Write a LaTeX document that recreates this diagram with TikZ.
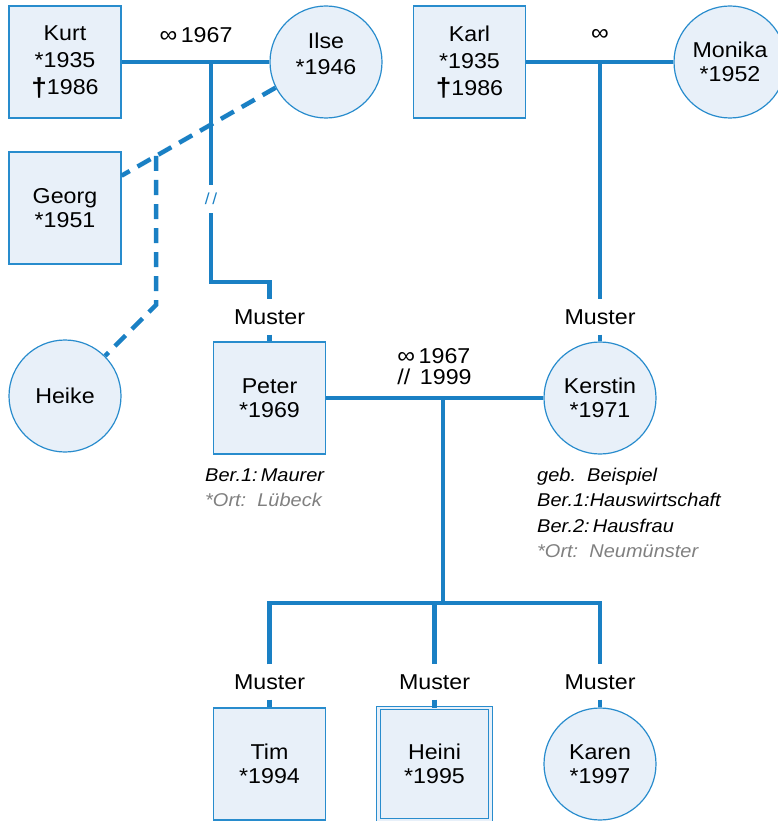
\documentclass[tikz,border=0pt]{standalone}
\usepackage{fontspec}
\setmainfont{Liberation Sans}[FakeStretch=1.08]
\definecolor{lineblue}{RGB}{26,128,196}
\definecolor{boxfill}{RGB}{232,240,249}
\definecolor{boxline}{RGB}{40,140,205}
\definecolor{greytext}{RGB}{128,128,128}
\newcommand{\deathmark}{{\fontsize{26}{26}\selectfont\bfseries\raisebox{-1.5pt}{†}}}
\newcommand{\marmark}{{\fontsize{23}{23}\selectfont ∞}}
\begin{document}
\begin{tikzpicture}[x=1pt,y=-1pt,
  person/.style={draw=boxline, fill=boxfill, line width=1.2pt, inner sep=0pt, align=center,
    font=\fontsize{21.5}{24.5}\selectfont},
  male/.style={person, rectangle, minimum width=112pt, minimum height=112pt},
  female/.style={person, circle, minimum size=112pt},
  tall/.style={font=\fontsize{21.5}{27}\selectfont},
  conn/.style={draw=lineblue, line width=4.5pt},
  dashconn/.style={conn, dash pattern=on 15pt off 9pt},
  lbl/.style={font=\fontsize{21.5}{21}\selectfont, inner sep=0pt},
  muster/.style={lbl, inner ysep=10pt},
  info/.style={font=\fontsize{18.5}{25.5}\selectfont\itshape, align=left, inner sep=0pt, anchor=north west},
]
\useasboundingbox (0,0) rectangle (777,821);

% persons
\node[male, tall] (Kurt) at (65,62) {Kurt\\*1935\\\deathmark1986};
\node[female, label={[lbl, align=center, font=\fontsize{21.5}{26}\selectfont, yshift=8.5pt]center:{Ilse\\*1946}}] (Ilse) at (326,62) {};
\node[male] (Georg) at (65,208) {Georg\\*1951};
\node[female] (Heike) at (65,396) {Heike};
\node[male, tall] (Karl) at (469.5,62) {Karl\\*1935\\\deathmark1986};
\node[female] (Monika) at (730,62) {Monika\\*1952};
\node[male] (Peter) at (269.5,398) {Peter\\*1969};
\node[female] (Kerstin) at (600,398) {Kerstin\\*1971};
\node[male] (Tim) at (269.5,764) {Tim\\*1994};
\node[male, line width=1pt, double=boxfill, double distance=2.5pt] (Heini) at (434.5,764) {Heini\\*1995};
\node[female] (Karen) at (600,764) {Karen\\*1997};

% surname labels
\node[muster] (muP) at (269.5,317) {Muster};
\node[muster] (muK) at (600,317) {Muster};
\node[muster] (muT) at (269.5,682) {Muster};
\node[muster] (muH) at (434.5,682) {Muster};
\node[muster] (muKa) at (600,682) {Muster};

% marriage labels
\node[lbl] (kiMar) at (196,35) {\marmark\,1967};
\node[lbl] (kmMar) at (600,35) {\marmark};
\node[lbl, align=left] (pkMar) at (434.5,366.5) {\marmark\,1967\\//\hspace{0.45em}1999};
\node[inner sep=0pt, minimum height=28pt, text=lineblue, font=\fontsize{16}{16}\selectfont] (kiDiv) at (211,199) {/\,/};

% info texts
\node[info] (peterInfo) at (205,468.5) {Ber.1:\,Maurer\\\textcolor{greytext}{*Ort:\ \ Lübeck}};
\node[info] (kerstinInfo) at (537,467.5) {geb.\ \ Beispiel\\Ber.1:Hauswirtschaft\\Ber.2:\,Hausfrau\\\textcolor{greytext}{*Ort:\ \ Neumünster}};

% coordinates
\coordinate (kiDrop) at (211,62);
\coordinate (kiTurn) at (269.5,282);
\coordinate (kmDrop) at (600,62);
\coordinate (pkDrop) at (443,398);
\coordinate (sib) at (443,603);
\coordinate (br) at (156,156);
\coordinate (br2) at (156,305);

% connectors
\draw[conn] (Kurt) -- (Ilse);
\draw[conn] (kiDrop) -- (kiDiv.north);
\draw[conn] (kiDiv.south) |- (kiTurn) -- (muP.north);
\draw[conn] (muP.south) -- (Peter.north);
\draw[dashconn] (Ilse.207) -- (br) -- (Georg);
\draw[dashconn] (br) -- (br2) -- (Heike.45);
\draw[conn] (Karl) -- (Monika);
\draw[conn] (kmDrop) -- (muK.north);
\draw[conn] (muK.south) -- (Kerstin.north);
\draw[conn] (Peter) -- (Kerstin);
\draw[conn] (pkDrop) -- (sib);
\draw[conn] (muT.north) |- (sib) -| (muKa.north);
\draw[conn] (muH.north |- sib) -- (muH.north);
\draw[conn] (muT.south) -- (Tim.north);
\draw[conn] (muH.south) -- (Heini.north);
\draw[conn] (muKa.south) -- (Karen.north);
\end{tikzpicture}
\end{document}
